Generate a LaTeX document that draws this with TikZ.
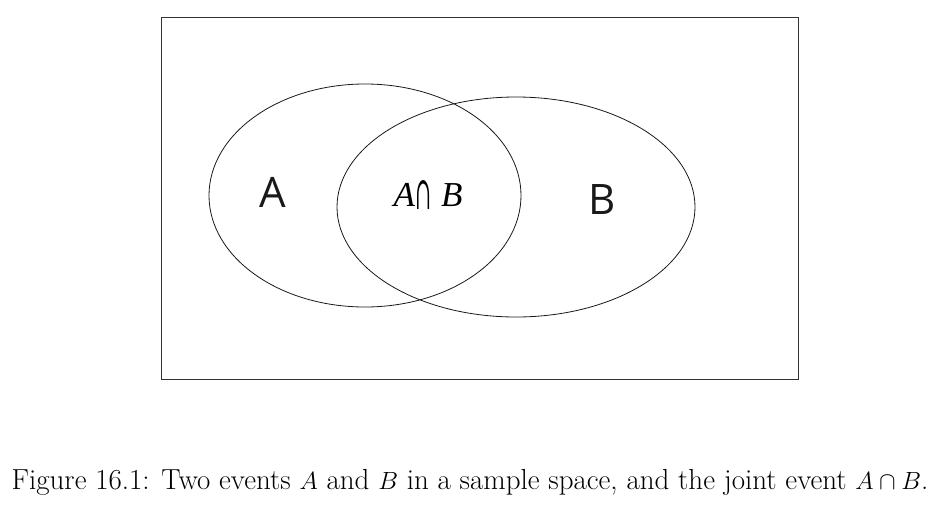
\documentclass[tikz,border=0pt]{standalone}
\usepackage{fontspec}
\usetikzlibrary{shapes.geometric}
\newfontfamily\labelfont{Open Sans}
\newfontfamily\itfont{Liberation Serif}
\newfontfamily\capfont{DejaVu Serif}
\begin{document}
\begin{tikzpicture}[x=1pt,y=-1pt,
  frame/.style={draw=black!80, line width=1.1pt},
  setline/.style={draw=black!90, line width=0.8pt},
  biglabel/.style={font=\labelfont\fontsize{42}{48}\selectfont, text=black!90, inner sep=0pt},
  midlabel/.style={font=\itfont\itshape\fontsize{35}{40}\selectfont, inner sep=0pt},
  caption/.style={font=\fontsize{29}{34}\selectfont, inner sep=0pt, anchor=base}]
\useasboundingbox (0,0) rectangle (940,509);
\node[frame, minimum width=637pt, minimum height=362pt, inner sep=0pt, anchor=north west] (space) at (161,17) {};
\node[setline, ellipse, minimum width=312pt, minimum height=223pt, inner sep=0pt] (ea) at (365,195.5) {};
\node[setline, ellipse, minimum width=358pt, minimum height=220pt, inner sep=0pt] (eb) at (516,207) {};
\node[biglabel] (la) at (273,192) {A};
\node[biglabel] (lb) at (602,200) {B};
\node[midlabel, anchor=base] (lab) at (428,206) {A\hspace{1pt}\raisebox{-3pt}{\scalebox{0.55}[1.32]{\upshape\capfont ∩}}\hspace{9pt}B};
\node[caption] (cap) at (470,489) {Figure 16.1: Two events $A$ and $B$ in a sample space, and the joint event $A\cap B$.};
\end{tikzpicture}
\end{document}
